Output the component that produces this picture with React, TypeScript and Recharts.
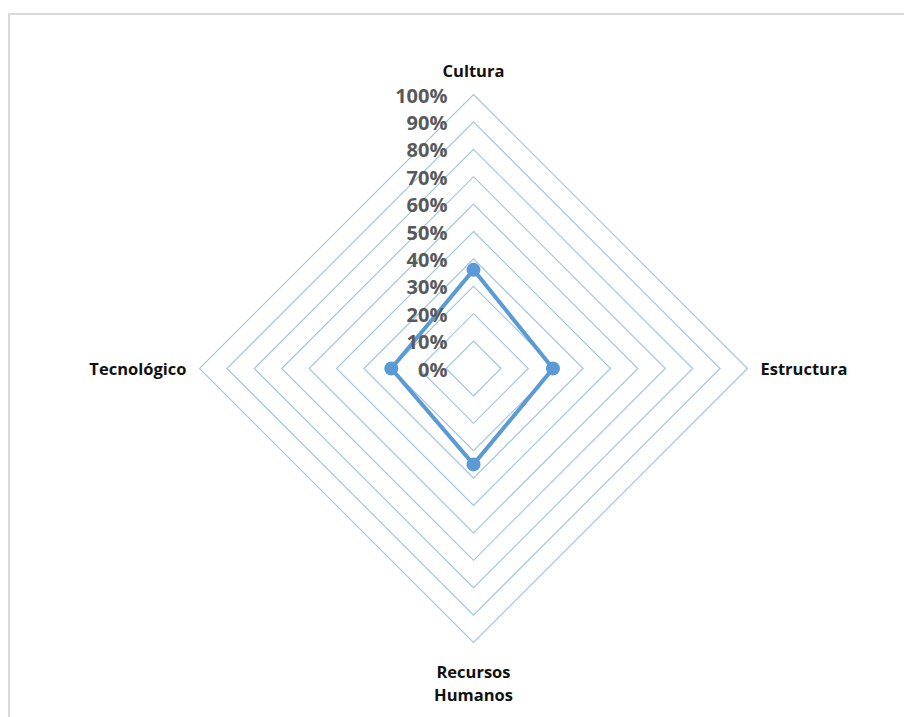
import { RadarChart, Radar, PolarGrid, PolarAngleAxis, PolarRadiusAxis } from "recharts";

const categories = ["Cultura", "Estructura", "Recursos Humanos", "Tecnológico"];
const scores = [0.36, 0.29, 0.35, 0.3];
const radiusTicks = [0, 0.1, 0.2, 0.3, 0.4, 0.5, 0.6, 0.7, 0.8, 0.9, 1];

const chartData = categories.map((name, i) => ({ name, value: scores[i] }));

const labelFont = "'Open Sans', 'Noto Sans', sans-serif";
const lineBlue = "#5b9bd5";

function AngleTick(props: any) {
  const { x, y, payload } = props;
  const name: string = payload.value;
  const common = { fontFamily: labelFont, fontWeight: 700, fontSize: 16.5, fill: "#111" };

  if (name === "Cultura") {
    return (
      <text x={x} y={y - 10} textAnchor="middle" {...common}>
        {name}
      </text>
    );
  }
  if (name === "Estructura") {
    return (
      <text x={x + 5} y={y + 6} textAnchor="start" {...common}>
        {name}
      </text>
    );
  }
  if (name === "Tecnológico") {
    return (
      <text x={x - 5} y={y + 6} textAnchor="end" {...common}>
        {name}
      </text>
    );
  }
  // Recursos Humanos wraps onto two lines
  const words = name.split(" ");
  return (
    <text x={x} y={y + 27} textAnchor="middle" {...common}>
      {words.map((w, i) => (
        <tspan key={w} x={x} dy={i === 0 ? 0 : 23}>
          {w}
        </tspan>
      ))}
    </text>
  );
}

function RadiusTick(props: any) {
  const { x, y, payload } = props;
  return (
    <text
      x={x - 26}
      y={y + 8}
      textAnchor="end"
      fontFamily={labelFont}
      fontWeight={700}
      fontSize={20}
      fill="#595959"
    >
      {Math.round(payload.value * 100) + "%"}
    </text>
  );
}

function Dot(props: any) {
  const { cx, cy } = props;
  if (cx == null || cy == null) return null;
  return <circle cx={cx} cy={cy} r={7} fill={lineBlue} />;
}

export default function App() {
  return (
    <div style={{ position: "relative", width: 912, height: 717 }}>
      <div
        style={{
          position: "absolute",
          left: 0,
          top: 5,
          width: 920,
          height: 730,
          border: "2px solid #d9d9d9",
          boxSizing: "border-box",
        }}
      />
      <div style={{ position: "absolute", left: -8, top: -8 }}>
        <RadarChart
          width={912}
          height={717}
          data={chartData}
          cx={473.5}
          cy={368.5}
          outerRadius={274}
          startAngle={90}
          endAngle={-270}
        >
          <PolarGrid gridType="polygon" radialLines={false} stroke="#9dc3e6" strokeWidth={1.1} />
          <PolarAngleAxis dataKey="name" tick={<AngleTick />} tickLine={false} axisLine={false} />
          <PolarRadiusAxis
            angle={90}
            domain={[0, 1]}
            ticks={radiusTicks}
            tick={<RadiusTick />}
            axisLine={false}
            tickLine={false}
          />
          <Radar
            dataKey="value"
            stroke={lineBlue}
            strokeWidth={4}
            fill={lineBlue}
            fillOpacity={0}
            dot={<Dot />}
            isAnimationActive={false}
          />
        </RadarChart>
      </div>
    </div>
  );
}
